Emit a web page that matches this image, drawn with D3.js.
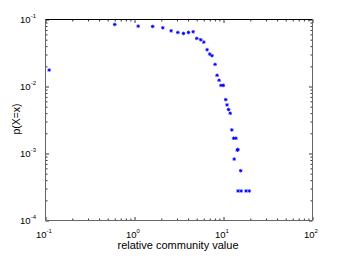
<!DOCTYPE html>
<html>
<head>
<meta charset="utf-8">
<script src="https://cdn.jsdelivr.net/npm/d3@7"></script>
<style>
  body { margin: 0; background: #fff; }
  svg { display: block; font-family: "Liberation Sans", Arial, sans-serif; }
</style>
</head>
<body>
<div id="chart"></div>
<script>
// datos (log-log)
const xValues = [0.11, 0.6, 1.1, 1.6, 2.08, 2.58, 3.07, 3.55, 4.04, 4.56, 5.01, 5.55, 6.01, 6.54, 7.0, 7.43, 8.04, 8.47, 8.92, 9.38, 9.97, 10.6, 10.96, 11.4, 11.9, 12.4, 13.0, 13.8, 13.2, 14.3, 14.5, 15.6, 14.55, 15.8, 17.9, 19.5];
const yValues = [0.0176, 0.0843, 0.0796, 0.0787, 0.0752, 0.0678, 0.0641, 0.0619, 0.0641, 0.0656, 0.0522, 0.0499, 0.046, 0.0354, 0.0305, 0.0288, 0.0214, 0.0147, 0.0124, 0.0104, 0.0104, 0.00637, 0.00531, 0.00453, 0.00399, 0.00225, 0.00169, 0.00169, 0.000826, 0.00112, 0.00115, 0.000553, 0.000276, 0.000276, 0.000276, 0.000276];
const xDecades = [0.1, 1, 10, 100];
const yDecades = [0.0001, 0.001, 0.01, 0.1];
const xTitle = 'relative community value';
const yTitle = 'p(X=x)';

const width = 346, height = 258;
const mLeft = 45.5, mRight = 312.5, mTop = 19.5, mBottom = 220.5;

const svg = d3.select('#chart').append('svg').attr('width', width).attr('height', height);

const x = d3.scaleLog().domain([0.1, 100]).range([mLeft, mRight]);
const y = d3.scaleLog().domain([1e-4, 1e-1]).range([mBottom, mTop]);

const minorX = x.ticks().filter((d) => !xDecades.some((v) => Math.abs(v - d) < 1e-9));
const minorY = y.ticks().filter((d) => !yDecades.some((v) => Math.abs(v - d) < 1e-12));

// ejes con ticks hacia dentro en los cuatro lados
function tickAxis(axis, pos, vals, size) {
	const g = svg.append('g').attr('transform', pos)
		.call(axis.tickValues(vals).tickSize(size).tickFormat(''));
	g.select('.domain').remove();
	g.selectAll('line').attr('stroke', '#333');
	return g;
}
tickAxis(d3.axisBottom(x), `translate(0,${mBottom})`, minorX, -2);
tickAxis(d3.axisBottom(x), `translate(0,${mBottom})`, xDecades, -3.5);
tickAxis(d3.axisTop(x), `translate(0,${mTop})`, minorX, -2);
tickAxis(d3.axisTop(x), `translate(0,${mTop})`, xDecades, -3.5);
tickAxis(d3.axisLeft(y), `translate(${mLeft},0)`, minorY, -2);
tickAxis(d3.axisLeft(y), `translate(${mLeft},0)`, yDecades, -3.5);
tickAxis(d3.axisRight(y), `translate(${mRight},0)`, minorY, -2);
tickAxis(d3.axisRight(y), `translate(${mRight},0)`, yDecades, -3.5);

// caja
svg.append('line').attr('x1', mLeft).attr('x2', mRight).attr('y1', mTop).attr('y2', mTop).attr('stroke', '#000');
svg.append('line').attr('x1', mLeft).attr('x2', mRight).attr('y1', mBottom).attr('y2', mBottom).attr('stroke', '#666');
svg.append('line').attr('x1', mLeft).attr('x2', mLeft).attr('y1', mTop).attr('y2', mBottom).attr('stroke', '#666');
svg.append('line').attr('x1', mRight).attr('x2', mRight).attr('y1', mTop).attr('y2', mBottom).attr('stroke', '#666');

// etiquetas 10^n
function powLabel(sel) {
	sel.append('tspan').text('10').attr('font-size', 9.5);
	sel.append('tspan').text((d) => Math.round(Math.log10(d))).attr('font-size', 6).attr('dy', -5);
}
svg.append('g').selectAll('text').data(xDecades).join('text')
	.attr('x', (d) => x(d) - 1.5).attr('y', 237.5).attr('text-anchor', 'middle').attr('fill', '#000')
	.call(powLabel);
svg.append('g').selectAll('text').data(yDecades).join('text')
	.attr('x', 36).attr('y', (d) => y(d) + 3.5).attr('text-anchor', 'end').attr('fill', '#000')
	.call(powLabel);

svg.append('text').attr('x', 178).attr('y', 249).attr('text-anchor', 'middle')
	.attr('font-size', 11).text(xTitle);
svg.append('text').attr('transform', 'translate(19.5,119) rotate(-90)').attr('text-anchor', 'middle')
	.attr('font-size', 10.5).text(yTitle);

// marcadores '*'
const r = 1.8;
const star = `M${-r},0H${r}M0,${-r}V${r}M${-r * 0.7},${-r * 0.7}L${r * 0.7},${r * 0.7}M${-r * 0.7},${r * 0.7}L${r * 0.7},${-r * 0.7}`;
svg.append('g').selectAll('path').data(xValues.map((v, i) => [v, yValues[i]])).join('path')
	.attr('transform', (d) => `translate(${x(d[0])},${y(d[1])})`)
	.attr('d', star).attr('stroke', '#0000ff').attr('stroke-width', 0.9).attr('fill', 'none');
</script>
</body>
</html>
